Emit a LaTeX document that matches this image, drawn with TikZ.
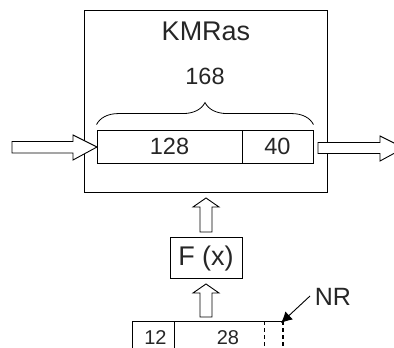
\documentclass[tikz,border=0pt]{standalone}
\usepackage{fontspec}
\setmainfont{Liberation Sans}
\usetikzlibrary{decorations.pathreplacing,arrows.meta}
\begin{document}
\begin{tikzpicture}[x=1pt,y=-1pt,
  box/.style={draw, line width=0.9pt, inner sep=0pt},
  hollow/.style={draw, line width=0.9pt, fill=white, line join=miter},
  lbl/.style={inner sep=0pt, text=black!85}]
\useasboundingbox (0,0) rectangle (394,348);
\clip (0,0) rectangle (394,348);
% main box
\node[box, minimum width=243pt, minimum height=182pt] (big) at (205.5,101) {};
\node[lbl, font=\fontsize{27}{27}\selectfont] (title) at (206,31.5) {KMRas};
\node[lbl, font=\fontsize{23.5}{23.5}\selectfont] (total) at (205,76) {168};
% bar
\node[box, minimum width=145pt, minimum height=33pt] (c128) at (169.5,146.5) {};
\node[box, minimum width=71pt, minimum height=33pt] (c40) at (277.5,146.5) {};
\node[lbl, font=\fontsize{23.5}{23.5}\selectfont] at (c128) {128};
\node[lbl, font=\fontsize{23.5}{23.5}\selectfont] at (c40) {40};
\draw[line width=0.8pt, decorate, decoration={brace, amplitude=22pt}]
  (c128.north west) ++(0,-5) coordinate (bl) (c40.north east) ++(0,-5) coordinate (br)
  (bl) -- (br);
% side arrows
\draw[hollow] (12,141.5) -- (73,141.5) -- (73,135) -- (97,147) -- (73,160) -- (73,153) -- (12,153) -- cycle;
\draw[hollow] (318,142.5) -- (380,142.5) -- (380,136) -- (404,148) -- (380,161) -- (380,153.5) -- (318,153.5) -- cycle;
% F(x)
\node[box, minimum width=72pt, minimum height=41pt] (fx) at (206,257.5) {};
\node[lbl, font=\fontsize{27}{27}\selectfont] at (206,258.5) {F (x)};
% up arrows
\draw[hollow] (200,232) -- (200,207) -- (193,207) -- (206,198) -- (219,207) -- (212,207) -- (212,232) -- cycle;
\draw[hollow] (200,317) -- (200,293) -- (193,293) -- (206,284) -- (219,293) -- (212,293) -- (212,317) -- cycle;
% bottom record
\coordinate (rtl) at (132,321);
\coordinate (rtr) at (283,321);
\draw[line width=0.9pt] (132,360) -- (rtl) -- (rtr);
\draw[line width=0.9pt] (174,321) -- (174,360);
\draw[line width=0.8pt, dashed, dash pattern=on 4pt off 3pt] (264,321) -- (264,360);
\draw[line width=1.4pt, dashed, dash pattern=on 4pt off 3pt] (rtr) -- (283,360);
\node[lbl, font=\fontsize{20}{20}\selectfont] (n12) at (155.5,337.5) {12};
\node[lbl, font=\fontsize{20}{20}\selectfont] (n28) at (228,337.5) {28};
% NR
\node[lbl, font=\fontsize{25}{25}\selectfont] (nr) at (333,297) {NR};
\coordinate (nrs) at (310,296);
\draw[line width=0.9pt, -{Latex[length=11pt,width=11pt]}] (nrs) -- (281,323);
\end{tikzpicture}
\end{document}
